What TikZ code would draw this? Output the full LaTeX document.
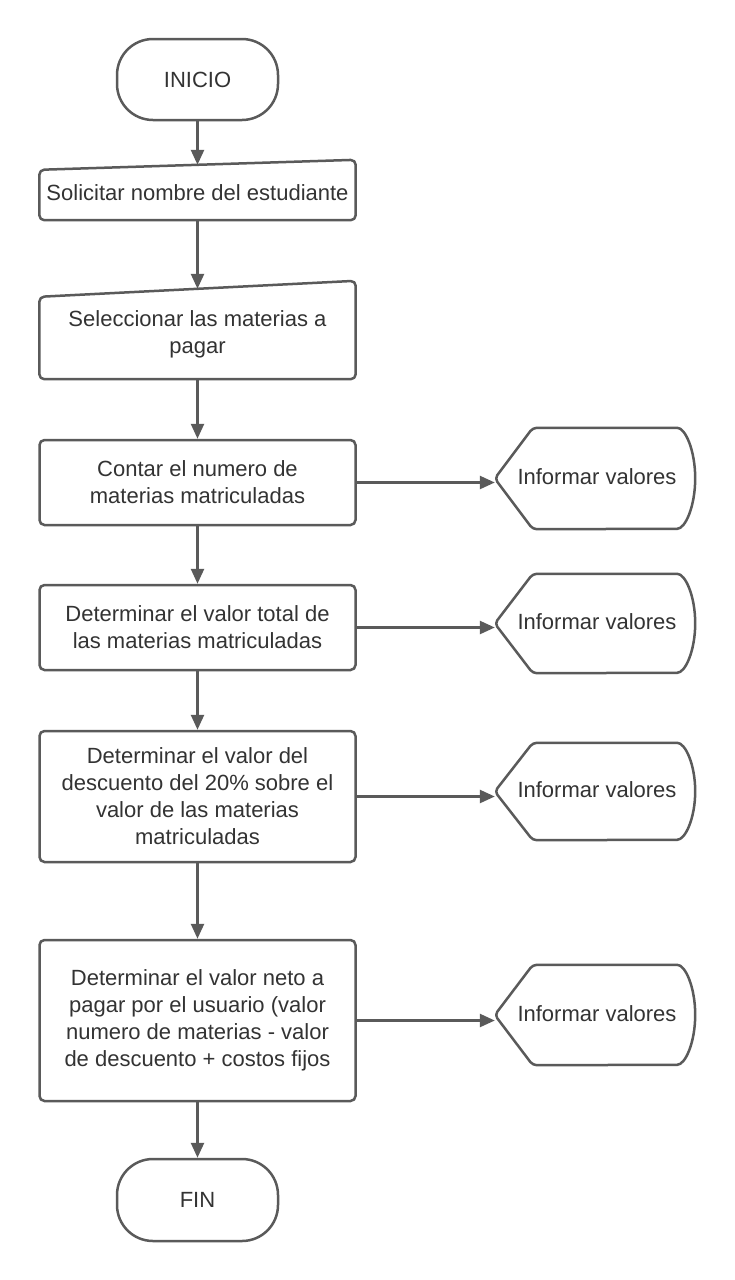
\documentclass[tikz,border=0pt]{standalone}
\usepackage{fontspec}
\setmainfont{Liberation Sans}
\usetikzlibrary{arrows.meta}
\definecolor{linec}{HTML}{5A5A5A}
\definecolor{textc}{HTML}{333333}
\tikzset{
  lbl/.style={draw=none, align=center, text=textc, font=\fontsize{22pt}{27pt}\selectfont, inner sep=0pt},
  shp/.style={draw=linec, line width=2.5pt, line join=round},
  term/.style={lbl, draw=linec, line width=2.5pt, rounded corners=36pt, minimum width=161pt, minimum height=81pt},
  procbox/.style={lbl, draw=linec, line width=2.5pt, rounded corners=5pt, minimum width=316pt},
  inbox/.style={lbl, minimum width=316pt},
  dispbox/.style={lbl, minimum width=200pt},
  arr/.style={draw=linec, line width=2.5pt, -{Triangle[length=15pt,width=13pt]}},
}
\newcommand{\drawmanual}[2]{\draw[shp, rounded corners=5pt] ([yshift=-#2pt]#1.north west) -- ([yshift=#2pt]#1.north east) -- (#1.south east) -- (#1.south west) -- cycle;}
\newcommand{\drawdisp}[2]{\draw[shp, rounded corners=4pt] (#1.west) -- ([xshift=38pt]#1.north west) -- ([xshift=-22pt]#1.north east) arc[start angle=90, end angle=-90, x radius=22pt, y radius=#2pt] -- ([xshift=38pt]#1.south west) -- cycle;}
\newcommand{\disptext}{\hspace*{4pt}\raisebox{3pt}{Informar valores}}
\begin{document}
\begin{tikzpicture}[x=1pt,y=-1pt]
\useasboundingbox[fill=white] (0,0) rectangle (735,1280);
% main column
\node[term] (ini) at (197.5,79.5) {INICIO};
\node[inbox, minimum height=55pt] (b1) at (197.5,192.5) {Solicitar nombre del estudiante};
\drawmanual{b1}{5}
\node[inbox, minimum height=90pt] (b2) at (197.5,334) {Seleccionar las materias a\\pagar};
\drawmanual{b2}{8}
\node[procbox, minimum height=85pt] (b3) at (197.5,482.5) {Contar el numero de\\materias matriculadas};
\node[procbox, minimum height=85pt] (b4) at (197.5,627.5) {Determinar el valor total de\\las materias matriculadas};
\node[procbox, minimum height=131pt] (b5) at (197.5,796.5) {Determinar el valor del\\descuento del 20\% sobre el\\valor de las materias\\matriculadas};
\node[procbox, minimum height=161pt] (b6) at (197.5,1020.5) {Determinar el valor neto a\\pagar por el usuario (valor\\numero de materias - valor\\de descuento + costos fijos};
\node[term, minimum height=82pt] (fin) at (197.5,1200) {FIN};
% displays
\node[dispbox, minimum height=101pt] (d1) at (595,478.5) {\disptext};
\drawdisp{d1}{50.5}
\node[dispbox, minimum height=99pt] (d2) at (595,623.5) {\disptext};
\drawdisp{d2}{49.5}
\node[dispbox, minimum height=97pt] (d3) at (595,791.5) {\disptext};
\drawdisp{d3}{48.5}
\node[dispbox, minimum height=100pt] (d4) at (595,1015) {\disptext};
\drawdisp{d4}{50}
% connectors
\draw[arr] (ini.south) -- (b1.north);
\draw[arr] (b1.south) -- (b2.north);
\draw[arr] (b2.south) -- (b3.north);
\draw[arr] (b3.south) -- (b4.north);
\draw[arr] (b4.south) -- (b5.north);
\draw[arr] (b5.south) -- (b6.north);
\draw[arr] (b6.south) -- (fin.north);
\draw[arr] (b3.east) -- (b3.east -| d1.west);
\draw[arr] (b4.east) -- (b4.east -| d2.west);
\draw[arr] (b5.east) -- (b5.east -| d3.west);
\draw[arr] (b6.east) -- (b6.east -| d4.west);
\end{tikzpicture}
\end{document}
